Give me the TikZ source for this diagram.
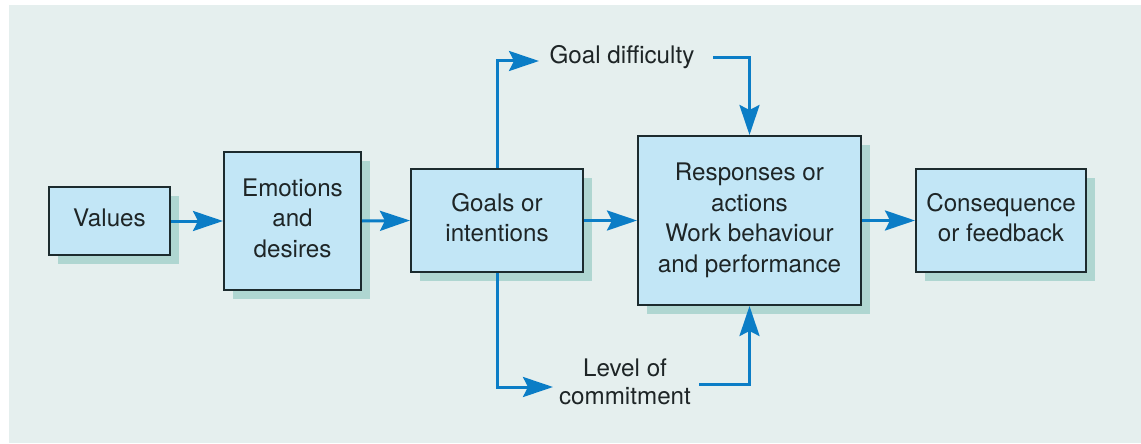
\documentclass[tikz,border=0pt]{standalone}
\usepackage{fontspec}
\setmainfont{TeX Gyre Heros}
\usetikzlibrary{arrows.meta,shadows}
\definecolor{panel}{HTML}{E5EFEE}
\definecolor{boxfill}{HTML}{C2E6F6}
\definecolor{shadowc}{HTML}{AFD6D1}
\definecolor{arrowc}{HTML}{0B7DC6}
\definecolor{edgec}{HTML}{1C2B2E}
\definecolor{textc}{HTML}{1E2526}
\tikzset{
  blockbox/.style={draw=edgec, line width=2pt, fill=boxfill, align=center,
    inner sep=0pt, text depth=6pt, font=\fontsize{24.2}{30.5}\selectfont, text=textc,
    general shadow={fill=shadowc, shadow xshift=9pt, shadow yshift=-9pt}},
  labeltext/.style={align=center, inner sep=0pt, font=\fontsize{24.2}{28}\selectfont, text=textc},
  flow/.style={draw=arrowc, line width=3pt, -{Stealth[length=30pt, width=20pt, inset=5pt]}},
}
\begin{document}
\begin{tikzpicture}[x=1pt, y=-1pt]
\useasboundingbox (0,0) rectangle (1141,444);
\fill[white] (0,0) rectangle (1141,444);
\fill[panel] (9,5) rectangle (1141,443);

\node[blockbox, minimum width=121pt, minimum height=68pt] (values) at (109.5,221) {Values};
\node[blockbox, minimum width=137pt, minimum height=138pt] (emot) at (292.5,221) {Emotions\\and\\desires};
\node[blockbox, minimum width=172pt, minimum height=103pt] (goals) at (497,220.5) {Goals or\\intentions};
\node[blockbox, minimum width=223pt, minimum height=169pt] (resp) at (749.5,220.5) {Responses or\\actions\\Work behaviour\\and performance};
\node[blockbox, minimum width=170pt, minimum height=103pt] (cons) at (1001,220.5) {Consequence\\or feedback};

\node[labeltext] (gd) at (622,57) {Goal difficulty};
\node[labeltext] (lc) at (625,382) {Level of\\commitment};

\coordinate (gdin) at (539,61);
\coordinate (gdout) at (713,58);
\coordinate (lcin) at (553,387);
\coordinate (lcout) at (699,384);

\draw[flow] (values.east) -- (emot.west);
\draw[flow] (emot.east) -- (goals.west);
\draw[flow] (goals.east) -- (resp.west);
\draw[flow] (resp.east) -- (cons.west);

\draw[flow] (goals.north) |- (gdin);
\draw[flow] (gdout) -| (resp.north);
\draw[flow] (goals.south) |- (lcin);
\draw[flow] (lcout) -| (resp.south);
\end{tikzpicture}
\end{document}
